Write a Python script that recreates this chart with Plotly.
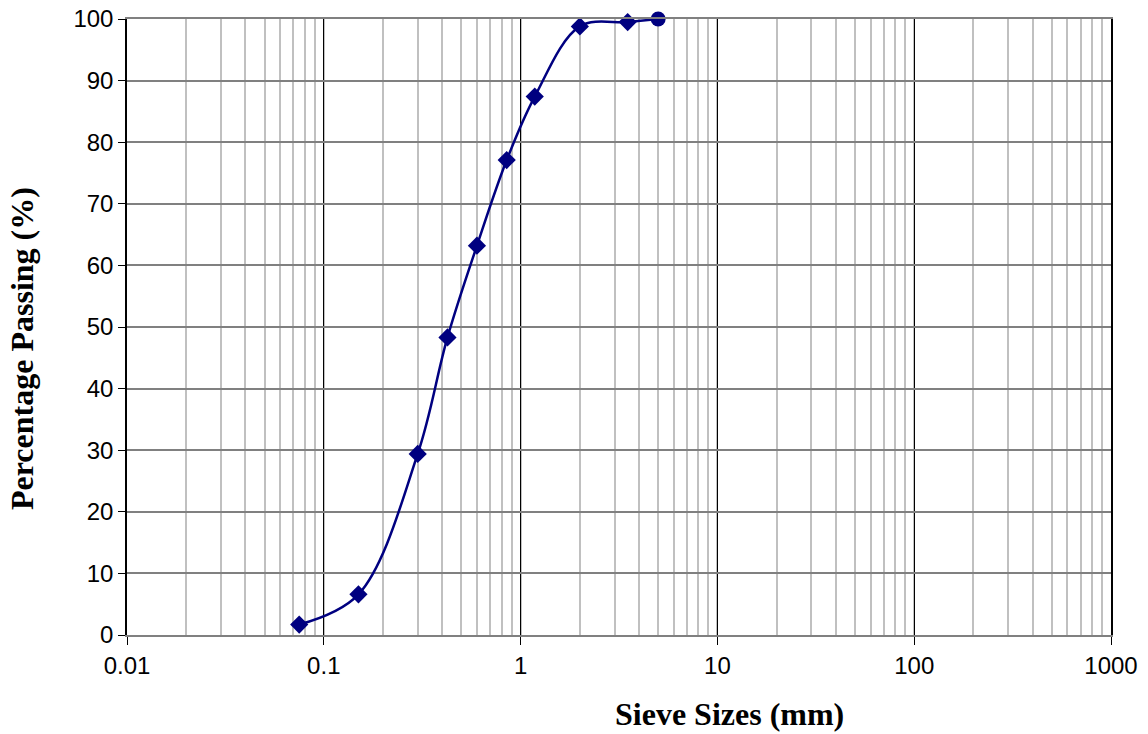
import plotly.graph_objects as go

sieve_mm = [0.075, 0.15, 0.3, 0.425, 0.6, 0.85, 1.18, 2.0, 3.5, 5.0]
passing = [1.7, 6.6, 29.4, 48.3, 63.2, 77.1, 87.4, 98.8, 99.5, 100.0]
marker_symbols = ["diamond"] * 9 + ["circle"]
marker_sizes = [14] * 9 + [15]

x_tick_vals = [0.01, 0.1, 1, 10, 100, 1000]
x_tick_text = ["0.01", "0.1", "1", "10", "100", "1000"]
y_tick_vals = list(range(0, 101, 10))

navy = "#000080"

W, H = 1148, 734
L, R, T, B = 127, 37, 19, 99

fig = go.Figure()
fig.add_trace(go.Scatter(
    x=sieve_mm, y=passing, mode="lines+markers",
    line=dict(color=navy, width=2.5, shape="spline", smoothing=1.0),
    marker=dict(color=navy, symbol=marker_symbols, size=marker_sizes, opacity=1,
                line=dict(width=0)),
    cliponaxis=False,
    showlegend=False, hoverinfo="x+y",
))

fig.update_layout(
    width=W, height=H,
    margin=dict(l=L, r=R, t=T, b=B, autoexpand=False),
    paper_bgcolor="white", plot_bgcolor="white",
    font=dict(family="Liberation Sans, Arial", size=24, color="black"),
    xaxis=dict(
        type="log", range=[-2, 3],
        tickvals=x_tick_vals, ticktext=x_tick_text,
        ticks="outside", ticklen=8, tickcolor="black",
        tickfont=dict(size=24), ticklabeloverflow="allow",
        showgrid=True, gridcolor="black", gridwidth=1,
        minor=dict(dtick="D1", showgrid=True, gridcolor="#c0c0c0", gridwidth=1.5, ticks=""),
        showline=True, linecolor="#808080", linewidth=1.5, mirror=True,
        zeroline=False, automargin=False,
    ),
    yaxis=dict(
        range=[0, 100], tickvals=y_tick_vals,
        ticks="outside", ticklen=7, tickcolor="black",
        tickfont=dict(size=24), ticklabeloverflow="allow",
        showgrid=True, gridcolor="#808080", gridwidth=1.5,
        showline=True, linecolor="black", linewidth=1.5, mirror=True,
        zeroline=False, automargin=False,
    ),
    annotations=[
        dict(text="<b>Sieve Sizes (mm)</b>", xref="paper", yref="paper",
             x=(729 - L) / (W - L - R), y=-(714 - (H - B)) / (H - B - T),
             xanchor="center", yanchor="middle", showarrow=False,
             font=dict(family="Liberation Serif, Times New Roman", size=32, color="black")),
        dict(text="<b>Percentage Passing (%)</b>", xref="paper", yref="paper",
             x=-(L - 22) / (W - L - R), y=((H - B) - 349) / (H - B - T),
             xanchor="center", yanchor="middle", showarrow=False, textangle=-90,
             font=dict(family="Liberation Serif, Times New Roman", size=32, color="black")),
    ],
)

fig.write_html("out.html", config={"displayModeBar": False},
               post_script="document.body.style.margin='0';")
